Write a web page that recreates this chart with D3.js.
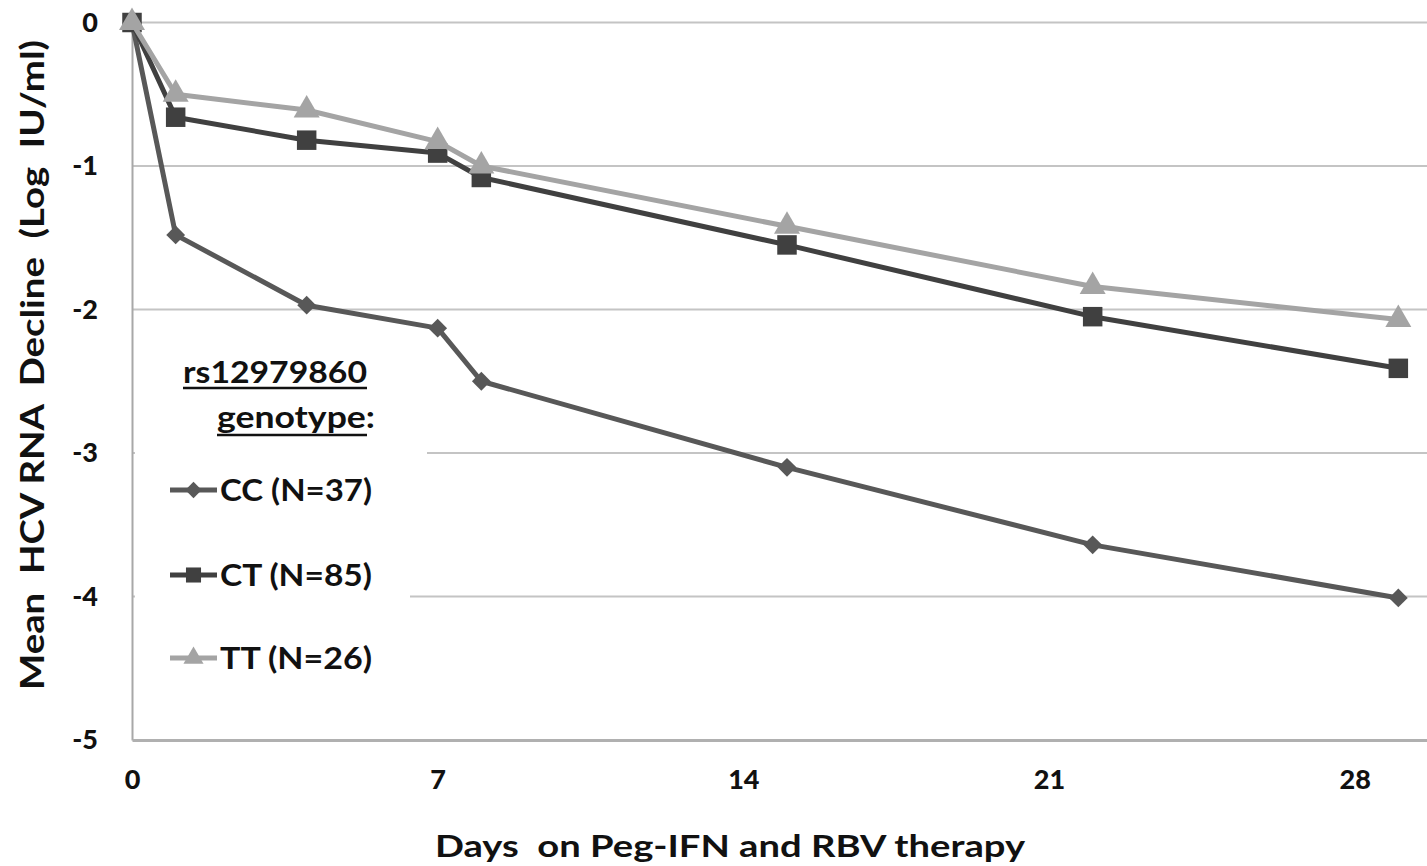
<!DOCTYPE html>
<html>
<head>
<meta charset="utf-8">
<script src="https://cdn.jsdelivr.net/npm/d3@7"></script>
<style>
  html, body { margin: 0; padding: 0; background: #fff; }
  svg { display: block; font-family: Lato, "Open Sans", sans-serif; font-weight: 700; }
</style>
</head>
<body>
<svg id="chart" width="1427" height="866"></svg>
<script>
// Days after start of Peg-IFN + RBV therapy at which HCV RNA was measured
const days = [0, 1, 4, 7, 8, 15, 22, 29];

// Mean HCV RNA decline (log IU/ml) by rs12979860 genotype
const ccValues = [0, -1.48, -1.97, -2.13, -2.50, -3.10, -3.64, -4.01];
const ctValues = [0, -0.66, -0.82, -0.91, -1.08, -1.55, -2.05, -2.41];
const ttValues = [0, -0.50, -0.61, -0.83, -1.00, -1.42, -1.84, -2.07];

const seriesNames = ["CC (N=37)", "CT (N=85)", "TT (N=26)"];

const xTicks = [0, 7, 14, 21, 28];
const yTicks = [0, -1, -2, -3, -4, -5];

const svg = d3.select("#chart");

const plotLeft = 132, plotRight = 1442, plotTop = 22.5, plotBottom = 740;
const x = d3.scaleLinear().domain([0, 30]).range([plotLeft, plotRight]);
const y = d3.scaleLinear().domain([-5, 0]).range([plotBottom, plotTop]);

// plain hyphen-minus for negative tick labels
const tickText = d => String(d);

// horizontal gridlines
svg.append("g").selectAll("line")
  .data(yTicks.filter(v => v !== -5))
  .join("line")
  .attr("x1", plotLeft).attr("x2", 1427)
  .attr("y1", d => y(d)).attr("y2", d => y(d))
  .attr("stroke", "#c4c4c4").attr("stroke-width", 2);

// axes
const yAxis = svg.append("g")
  .attr("transform", `translate(${plotLeft},0)`)
  .call(d3.axisLeft(y).tickValues(yTicks).tickFormat(tickText).tickSize(0).tickPadding(34));
yAxis.select(".domain").attr("stroke", "#a8a8a8").attr("stroke-width", 2);
yAxis.selectAll("text")
  .attr("font-size", 27).attr("font-weight", 900)
  .attr("font-family", "Lato, sans-serif").attr("fill", "#111");

const xAxis = svg.append("g")
  .attr("transform", `translate(0,${plotBottom})`)
  .call(d3.axisBottom(x).tickValues(xTicks).tickFormat(tickText).tickSize(0).tickPadding(30));
xAxis.select(".domain").attr("stroke", "#b0b0b0").attr("stroke-width", 3);
xAxis.selectAll("text")
  .attr("font-size", 27).attr("font-weight", 900)
  .attr("font-family", "Lato, sans-serif").attr("fill", "#111");

// axis titles
svg.append("text")
  .attr("transform", "translate(44,365) rotate(-90)")
  .attr("text-anchor", "middle")
  .attr("font-size", 33)
  .attr("fill", "#111")
  .attr("textLength", 650).attr("lengthAdjust", "spacingAndGlyphs")
  .style("white-space", "pre")
  .text("Mean  HCV RNA  Decline  (Log  IU/ml)");

svg.append("text")
  .attr("x", 730).attr("y", 857)
  .attr("text-anchor", "middle")
  .attr("font-size", 30)
  .attr("fill", "#111")
  .attr("textLength", 590).attr("lengthAdjust", "spacingAndGlyphs")
  .style("white-space", "pre")
  .text("Days  on Peg-IFN and RBV therapy");

// legend background covers the gridlines behind it
svg.append("rect").attr("x", 135).attr("y", 330).attr("width", 292).attr("height", 190).attr("fill", "#fff");
svg.append("rect").attr("x", 135).attr("y", 515).attr("width", 275).attr("height", 223).attr("fill", "#fff");

// marker shapes
const shapes = {
  diamond: d3.symbol().type(d3.symbolDiamond2),
  square: d3.symbol().type(d3.symbolSquare2),
  triangle: d3.symbol().type(d3.symbolTriangle2)
};

const series = [
  { name: seriesNames[0], values: ccValues, color: "#585858", width: 5, shape: "diamond", size: 15, legendSize: 13 },
  { name: seriesNames[1], values: ctValues, color: "#404040", width: 5, shape: "square", size: 22, legendSize: 17 },
  { name: seriesNames[2], values: ttValues, color: "#a4a4a4", width: 5, shape: "triangle", size: 22, legendSize: 17 }
];

const line = d3.line().x(d => x(d[0])).y(d => y(d[1]));

series.forEach(s => {
  const pts = days.map((d, i) => [d, s.values[i]]);
  const g = svg.append("g");
  g.append("path")
    .attr("d", line(pts))
    .attr("fill", "none")
    .attr("stroke", s.color)
    .attr("stroke-width", s.width)
    .attr("stroke-linejoin", "round");
  g.selectAll("path.m")
    .data(pts)
    .join("path")
    .attr("class", "m")
    .attr("d", shapes[s.shape].size(s.size * s.size))
    .attr("transform", d => `translate(${x(d[0])},${y(d[1])})`)
    .attr("fill", s.color);
});

// legend
const lg = svg.append("g");
lg.append("text")
  .attr("x", 275).attr("y", 383).attr("text-anchor", "middle")
  .attr("font-size", 31).attr("fill", "#111")
  .attr("textLength", 184).attr("lengthAdjust", "spacingAndGlyphs")
  .text("rs12979860");
lg.append("line").attr("x1", 183).attr("x2", 367).attr("y1", 388).attr("y2", 388)
  .attr("stroke", "#111").attr("stroke-width", 2.5);
lg.append("text")
  .attr("x", 217).attr("y", 428)
  .attr("font-size", 31).attr("fill", "#111")
  .attr("textLength", 158).attr("lengthAdjust", "spacingAndGlyphs")
  .text("genotype:");
lg.append("line").attr("x1", 217).attr("x2", 367).attr("y1", 435).attr("y2", 435)
  .attr("stroke", "#111").attr("stroke-width", 2.5);

const legendY = [490, 575, 658];
series.forEach((s, i) => {
  const cy = legendY[i];
  lg.append("line").attr("x1", 170).attr("x2", 217).attr("y1", cy).attr("y2", cy)
    .attr("stroke", s.color).attr("stroke-width", 5);
  lg.append("path")
    .attr("d", shapes[s.shape].size(s.legendSize * s.legendSize))
    .attr("transform", `translate(193.5,${cy})`)
    .attr("fill", s.color);
  lg.append("text")
    .attr("x", 220).attr("y", cy + 11)
    .attr("font-size", 31).attr("fill", "#111")
    .attr("textLength", 152).attr("lengthAdjust", "spacingAndGlyphs")
    .text(s.name);
});
</script>
</body>
</html>
